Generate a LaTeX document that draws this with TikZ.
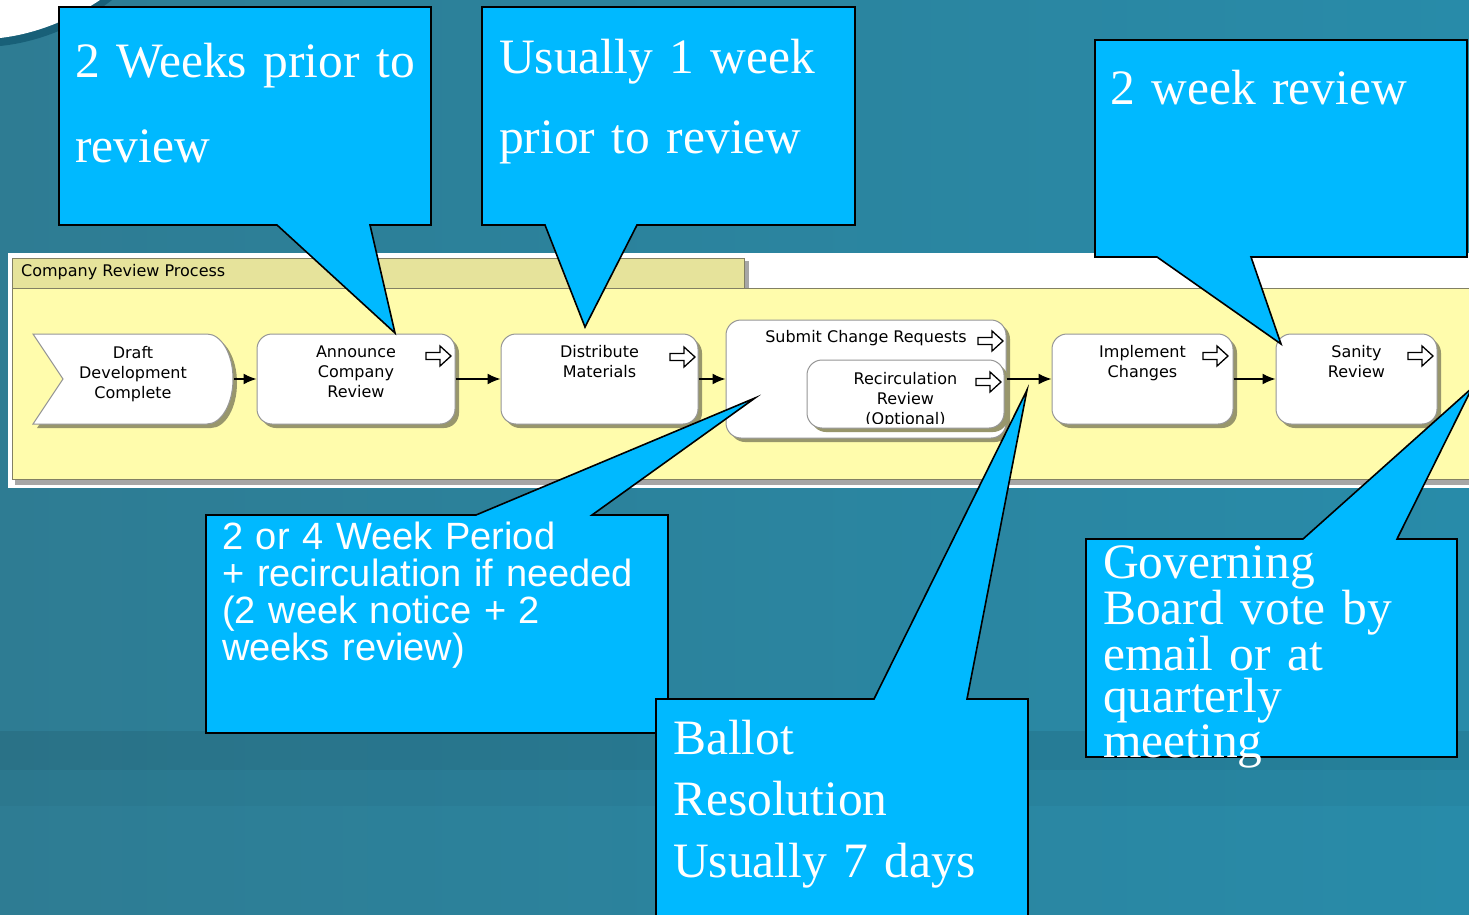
\documentclass[tikz,border=0pt]{standalone}
\usepackage{fontspec}
\usetikzlibrary{positioning,arrows.meta,shadows}
\newfontfamily\callserif{Liberation Serif}
\newfontfamily\callsans{Liberation Sans}
\newfontfamily\flowfont{DejaVu Sans}
\lineskiplimit=-\maxdimen
\definecolor{calloutcyan}{RGB}{0,185,255}
\definecolor{bgleft}{RGB}{46,124,147}
\definecolor{bgright}{RGB}{40,139,169}
\definecolor{swooshedge}{RGB}{24,96,120}
\definecolor{tabfill}{RGB}{230,227,155}
\definecolor{lanefill}{RGB}{255,252,172}
\definecolor{laneedge}{RGB}{130,128,100}
\definecolor{laneshade}{RGB}{166,166,166}
\definecolor{stepedge}{RGB}{150,150,150}
\definecolor{stepshade}{RGB}{152,150,108}
\tikzset{
	stepshadow/.style={drop shadow={shadow xshift=4pt, shadow yshift=-4pt, fill=stepshade, opacity=1}},
	stepbox/.style={draw=stepedge, line width=1pt, fill=white, rounded corners=15pt, stepshadow},
	steptext/.style={font=\flowfont\fontsize{16}{20}\selectfont, align=center, inner sep=0pt},
	flow/.style={-{Latex[length=13pt,width=11pt]}, line width=1.5pt},
	callout/.style={fill=calloutcyan, draw=black, line width=1.6pt},
	calltext/.style={text=white, inner sep=0pt, anchor=base west, align=left},
	nexticon/.pic={\draw[fill=white, line width=1.3pt] (0,-3.5) -- (14,-3.5) -- (14,-10) -- (25,0) -- (14,10) -- (14,3.5) -- (0,3.5) -- cycle;}
}
\begin{document}
\begin{tikzpicture}[x=1pt, y=-1pt]
		\clip (0,0) rectangle (1469,915);
		\fill[left color=bgleft, right color=bgright] (0,0) rectangle (1469,915);
		\fill[black, opacity=.08] (0,731) rectangle (1469,770);
		\fill[black, opacity=.03] (0,770) rectangle (1469,806);
		\fill[swooshedge] (0,0) -- (112,0) .. controls (80,25) and (40,42) .. (0,46) -- cycle;
		\fill[white] (0,0) -- (100,0) .. controls (70,20) and (35,34) .. (0,38) -- cycle;
		
		\fill[white] (8,253) rectangle (1469,488);
		\fill[laneshade] (15,479) rectangle (1469,485);
		\fill[laneshade] (744,261) rectangle (749,288);
		\draw[fill=tabfill, draw=laneedge, line width=1pt] (12,258) rectangle (744,288);
		\draw[fill=lanefill, draw=laneedge, line width=1pt] (12,288) rectangle (1475,479);
		\node[font=\flowfont\fontsize{16}{20}\selectfont, anchor=base west, inner sep=0pt] (lane) at (21,276) {Company Review Process};
		
		\draw[draw=stepedge, line width=1pt, fill=white, stepshadow] (33,334) -- (207,334) arc[start angle=90, end angle=-90, x radius=26pt, y radius=45pt] -- (33,424) -- (63,379) -- cycle;
		\coordinate (draft-top) at (133,334);
		\coordinate (draft) at (234,379);
		\node[stepbox, minimum width=198pt, minimum height=90pt] (announce) at (356,379) {};
		\node[stepbox, minimum width=197pt, minimum height=90pt] (distribute) at (599.5,379) {};
		\node[stepbox, minimum width=280pt, minimum height=118pt] (submit) at (866,379) {};
		\node[stepbox, minimum width=197pt, minimum height=68pt] (recirc) at (905.5,394) {};
		\node[stepbox, minimum width=181pt, minimum height=90pt] (implement) at (1142.5,379) {};
		\node[stepbox, minimum width=161pt, minimum height=90pt] (sanity) at (1356.5,379) {};
		
		\node[steptext, below=12pt of draft-top] (draft-t) {Draft\\Development\\Complete};
		\node[steptext, below=12pt of announce.north] (announce-t) {Announce\\Company\\Review};
		\node[steptext, below=12pt of distribute.north] (distribute-t) {Distribute\\Materials};
		\node[steptext, below=11pt of submit.north] (submit-t) {Submit Change Requests};
		\begin{scope}
			\clip (807,360) rectangle (1004,423);
			\node[steptext, below=13pt of recirc.north] (recirc-t) {Recirculation\\Review\\(Optional)};
		\end{scope}
		\node[steptext, below=12pt of implement.north] (implement-t) {Implement\\Changes};
		\node[steptext, below=12pt of sanity.north] (sanity-t) {Sanity\\Review};
		
		\pic at (426,356) {nexticon};
		\pic at (670,357) {nexticon};
		\pic at (978,341) {nexticon};
		\pic at (976,382) {nexticon};
		\pic at (1203,356) {nexticon};
		\pic at (1408,356) {nexticon};
		
		\draw[flow] (draft) -- (announce);
		\draw[flow] (announce) -- (distribute);
		\draw[flow] (distribute) -- (submit);
		\draw[flow] (submit) -- (implement);
		\draw[flow] (implement) -- (sanity);
		
		\draw[callout] (59,7) -- (431,7) -- (431,225) -- (370,225) -- (395,333) -- (277,225) -- (59,225) -- cycle;
		\draw[callout] (482,7) -- (855,7) -- (855,225) -- (637,225) -- (585,327) -- (545,225) -- (482,225) -- cycle;
		\draw[callout] (1095,40) -- (1467,40) -- (1467,257) -- (1251,257) -- (1281,344) -- (1157,257) -- (1095,257) -- cycle;
		\draw[callout] (206,515) -- (476,515) -- (755,398) -- (592,515) -- (668,515) -- (668,733) -- (206,733) -- cycle;
		\draw[callout] (1086,539) -- (1303,539) -- (1472,388) -- (1397,539) -- (1457,539) -- (1457,757) -- (1086,757) -- cycle;
		\draw[callout] (656,930) -- (656,699) -- (874,699) -- (1027,390) -- (967,699) -- (1028,699) -- (1028,930);
		
		\node[calltext, font=\callserif\fontsize{49.5}{85}\selectfont, text width=360pt] (weeks) at (75,78) {2 Weeks prior to\\review};
		\node[calltext, font=\callserif\fontsize{49.5}{80}\selectfont, text width=350pt] (usually) at (499,74) {Usually 1 week\\prior to review};
		\node[calltext, font=\callserif\fontsize{49.5}{80}\selectfont, text width=350pt] (twoweek) at (1110,105) {2 week review};
		\node[calltext, font=\callsans\fontsize{38}{37}\selectfont, text width=440pt] (period) at (222,549) {2 or 4 Week Period\\+ recirculation if needed\\(2 week notice + 2\\weeks review)};
		\node[calltext, font=\callserif\fontsize{49.5}{42.5}\selectfont, text width=350pt] (board) at (1103,578) {Governing\\Board vote by\\email or at\\quarterly\\meeting};
		\node[calltext, font=\callserif\fontsize{49.5}{61.5}\selectfont, text width=350pt] (ballot) at (673,754) {Ballot\\Resolution\\Usually 7 days};
\end{tikzpicture}
\end{document}
